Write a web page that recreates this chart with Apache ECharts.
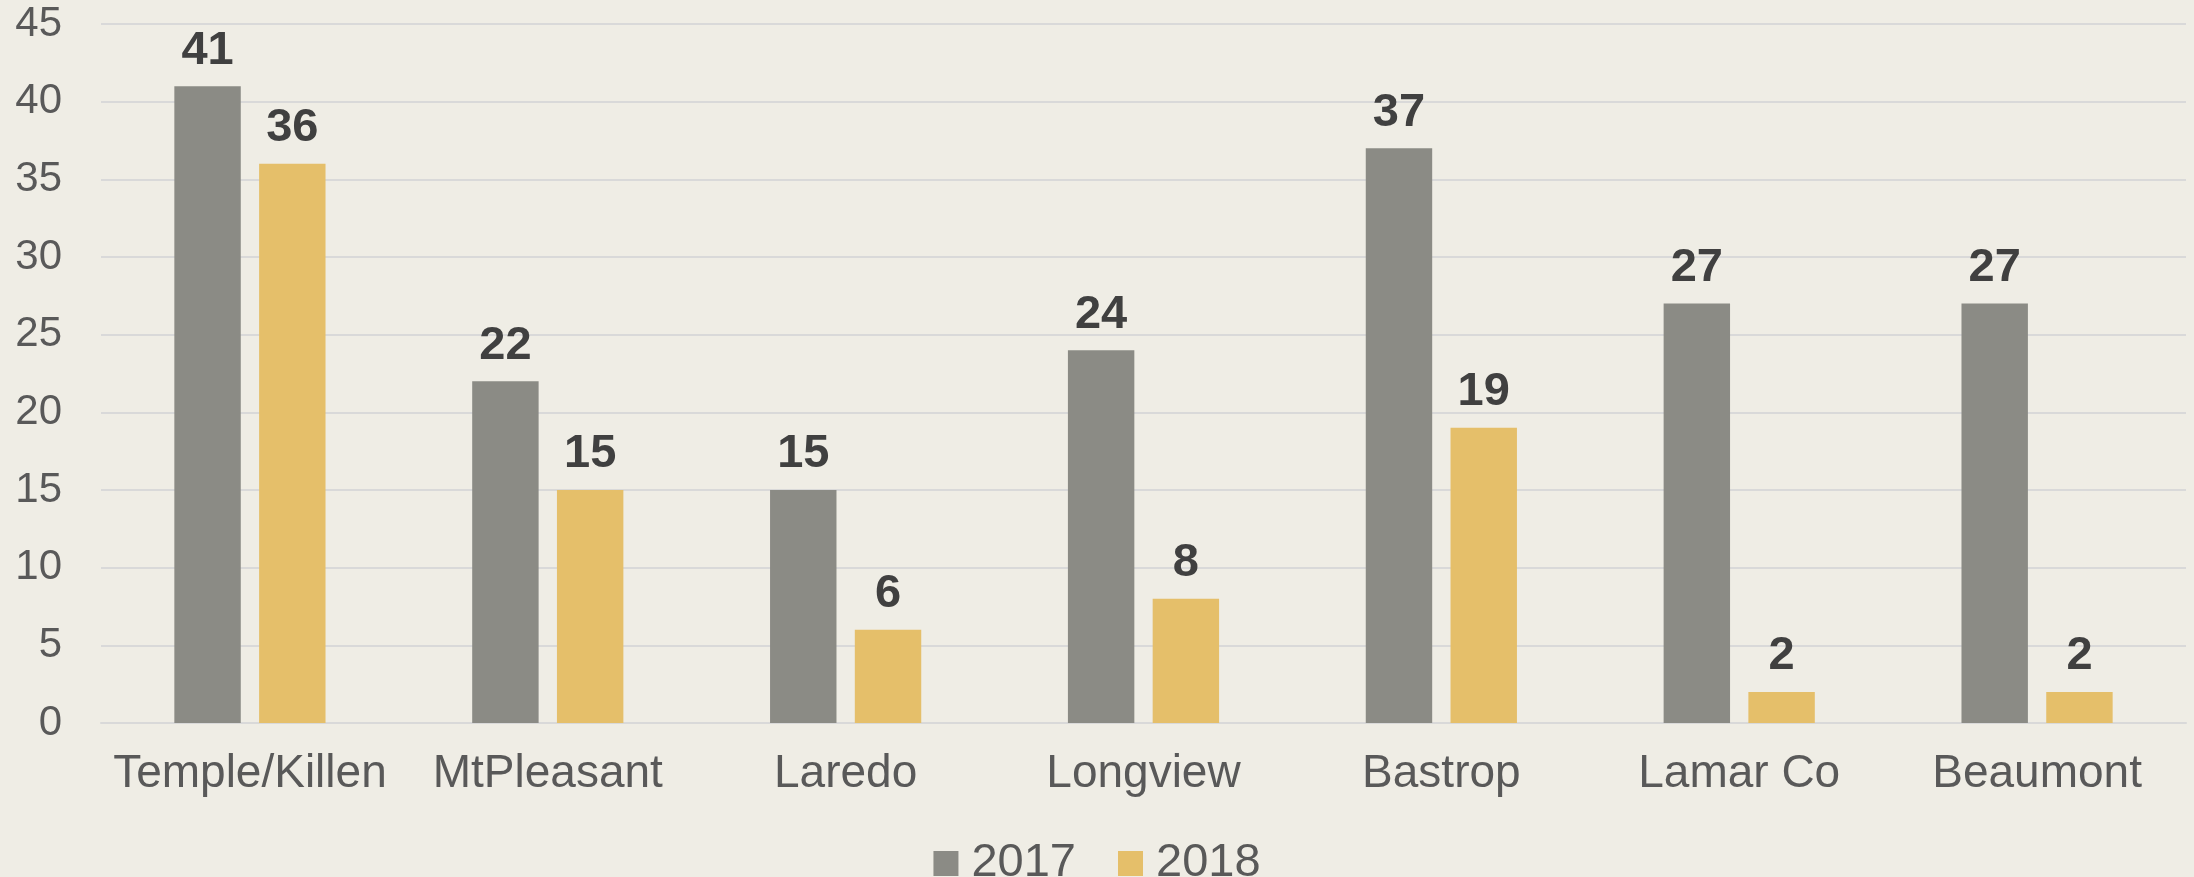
<!DOCTYPE html>
<html lang="en">
<head>
  <meta charset="UTF-8">
  <title>2017 vs 2018</title>
  <style>
    html, body { margin: 0; padding: 0; background: #efede5; }
    #chart { width: 2194px; height: 877px; }
  </style>
  <script src="https://cdn.jsdelivr.net/npm/echarts@6/dist/echarts.min.js"></script>
</head>
<body>
  <div id="chart"></div>
  <script>
    // data
    var categories = ['Temple/Killen', 'MtPleasant', 'Laredo', 'Longview', 'Bastrop', 'Lamar Co', 'Beaumont'];
    var values2017 = [41, 22, 15, 24, 37, 27, 27];
    var values2018 = [36, 15, 6, 8, 19, 2, 2];
    var yTicks = { min: 0, max: 45, interval: 5 };

    var font = '"Liberation Sans", Arial, sans-serif';

    var myChart = echarts.init(document.getElementById('chart'));

    // shared look of the value labels on top of bars
    var barLabel = {
      show: true,
      position: 'top',
      distance: 12,
      fontSize: 47,
      fontWeight: 'bold',
      fontFamily: font,
      color: '#404040'
    };

    var option = {
      backgroundColor: '#efede5',
      animation: false,
      grid: { left: 101, right: 8, top: 24, bottom: 154 },
      legend: {
        data: ['2017', '2018'],
        left: 'center',
        top: 835,
        itemWidth: 25,
        itemHeight: 25,
        itemGap: 42,
        icon: 'rect',
        textStyle: { fontSize: 47, fontFamily: font, color: '#595959', padding: [0, 0, 0, 8] }
      },
      xAxis: {
        type: 'category',
        data: categories,
        axisLine: { lineStyle: { color: '#d9d9d9', width: 2 } },
        axisTick: { show: false },
        axisLabel: { interval: 0, fontSize: 46, fontFamily: font, color: '#595959', margin: 28 }
      },
      yAxis: {
        type: 'value',
        min: yTicks.min,
        max: yTicks.max,
        interval: yTicks.interval,
        axisLine: { show: false },
        axisTick: { show: false },
        splitLine: { lineStyle: { color: '#d9d9d9', width: 2 } },
        axisLabel: { fontSize: 42, fontFamily: font, color: '#595959', margin: 39 }
      },
      series: [
        {
          name: '2017',
          type: 'bar',
          data: values2017,
          barWidth: '22.3%',
          barGap: '27.6%',
          itemStyle: { color: '#8b8b85' },
          label: barLabel
        },
        {
          name: '2018',
          type: 'bar',
          data: values2018,
          barWidth: '22.3%',
          itemStyle: { color: '#e5bf6a' },
          label: barLabel
        }
      ]
    };

    myChart.setOption(option);
  </script>
</body>
</html>
